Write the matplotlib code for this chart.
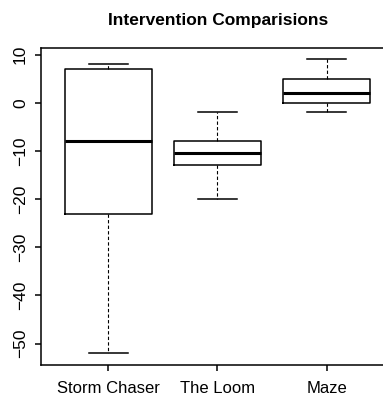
import matplotlib
matplotlib.use("Agg")
import matplotlib.pyplot as plt

plt.rcParams['font.family'] = ['Liberation Sans', 'DejaVu Sans']

# Datos
grupos = ["Storm Chaser", "The Loom", "Maze"]
bigote_inf = [-52, -20, -2]
q1 = [-23, -13, 0]
mediana = [-8, -10.5, 2]
q3 = [7, -8, 5]
bigote_sup = [8, -2, 9]

stats = []
for i in range(len(grupos)):
    stats.append({
        "label": grupos[i],
        "whislo": bigote_inf[i],
        "q1": q1[i],
        "med": mediana[i],
        "q3": q3[i],
        "whishi": bigote_sup[i],
        "fliers": [],
    })

fig = plt.figure(figsize=(3.83, 3.99), dpi=100)
ax = fig.add_axes([0.1063, 0.0852, 0.923, 0.7953])

ax.bxp(stats, positions=[1, 2, 3], widths=0.8, showfliers=False,
       boxprops=dict(color="black", linewidth=1.1),
       medianprops=dict(color="black", linewidth=2.2),
       whiskerprops=dict(color="black", linewidth=0.8, linestyle=(0, (3, 2))),
       capprops=dict(color="black", linewidth=1.1),
       capwidths=0.36)

ax.set_xlim(0.38, 3.62)
ax.set_ylim(-54.44, 11.44)
ax.set_yticks([-50, -40, -30, -20, -10, 0, 10])
ax.set_xticks([1, 2, 3])
ax.set_xticklabels(grupos)

for s in ax.spines.values():
    s.set_linewidth(1.1)
# el grafico original esta recortado por la derecha
ax.spines["right"].set_visible(False)

ax.tick_params(axis="both", direction="out", length=4.2, width=1.1)
ax.tick_params(axis="x", pad=7, labelsize=12)
ax.tick_params(axis="y", pad=5, labelsize=12.5)
for lbl in ax.get_yticklabels():
    lbl.set_rotation(90)
    lbl.set_va("center")

fig.text(0.5693, 0.948, "Intervention Comparisions", ha="center", va="center",
         fontsize=12.5, fontweight="bold")

fig.savefig("out.png", dpi=100)
